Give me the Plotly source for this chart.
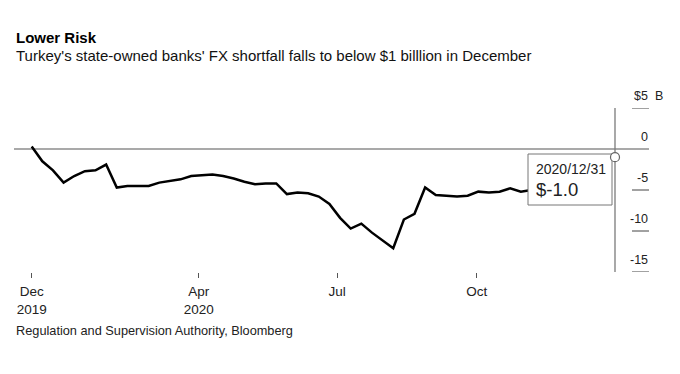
import plotly.graph_objects as go
import pandas as pd

# ---- data ----
dates = [
    "2019-12-13", "2019-12-20", "2019-12-27", "2020-01-03", "2020-01-10", "2020-01-17",
    "2020-01-24", "2020-01-31", "2020-02-07", "2020-02-14", "2020-02-21", "2020-02-28",
    "2020-03-06", "2020-03-13", "2020-03-20", "2020-03-27", "2020-04-03", "2020-04-10",
    "2020-04-17", "2020-04-24", "2020-05-01", "2020-05-08", "2020-05-15", "2020-05-22",
    "2020-05-29", "2020-06-05", "2020-06-12", "2020-06-19", "2020-06-26", "2020-07-03",
    "2020-07-10", "2020-07-17", "2020-07-24", "2020-07-31", "2020-08-07", "2020-08-14",
    "2020-08-21", "2020-08-28", "2020-09-04", "2020-09-11", "2020-09-18", "2020-09-25",
    "2020-10-02", "2020-10-09", "2020-10-16", "2020-10-23", "2020-10-30", "2020-11-06",
    "2020-11-13", "2020-11-20", "2020-11-27", "2020-12-04", "2020-12-11", "2020-12-18",
    "2020-12-25", "2020-12-31",
]
fx_shortfall = [
    0.3, -1.5, -2.6, -4.1, -3.3, -2.7,
    -2.6, -1.9, -4.7, -4.5, -4.5, -4.5,
    -4.1, -3.9, -3.7, -3.3, -3.2, -3.1,
    -3.3, -3.6, -4.0, -4.3, -4.2, -4.2,
    -5.5, -5.3, -5.4, -5.8, -6.7, -8.4,
    -9.7, -9.1, -10.2, -11.1, -12.1, -8.6,
    -7.9, -4.7, -5.6, -5.7, -5.8, -5.7,
    -5.2, -5.3, -5.2, -4.8, -5.2, -5.0,
    -4.6, -4.2, -3.8, -3.3, -2.6, -2.0,
    -1.5, -1.0,
]
x_tick_vals = ["2019-12-13", "2020-04-01", "2020-07-01", "2020-10-01"]
x_tick_text = ["Dec<br>2019", "Apr<br>2020", "Jul", "Oct"]
y_tick_vals = [5, 0, -5, -10, -15]
y_tick_text = ["$5", "0", "-5", "-10", "-15"]

title = "Lower Risk"
subtitle = "Turkey's state-owned banks' FX shortfall falls to below $1 billlion in December"
source = "Regulation and Supervision Authority, Bloomberg"

# ---- layout geometry (pixels) ----
W, H = 680, 374
L, R, T, B = 14, 65, 108, 102
PW, PH = W - L - R, H - T - B
FONT = "Liberation Sans, Arial, Helvetica, sans-serif"


def px_x(p):
    return (p - L) / PW


def px_y(p):
    return (H - B - p) / PH


px_per_day = 1.519
x_end = pd.Timestamp(dates[-1])
x_start = x_end - pd.Timedelta(days=PW / px_per_day)

fig = go.Figure()
fig.add_trace(go.Scatter(
    x=dates, y=fx_shortfall, mode="lines",
    line=dict(color="#000000", width=2.5),
    hoverinfo="skip", showlegend=False, cliponaxis=False,
))

shapes = []
# zero line
shapes.append(dict(type="line", xref="paper", yref="y", x0=px_x(14), x1=px_x(649),
                   y0=0, y1=0, line=dict(color="#8c8c8c", width=1.4), layer="below"))
# vertical end line (at the last date = right edge of plot area)
shapes.append(dict(type="line", xref="paper", yref="paper", x0=1, x1=1,
                   y0=0, y1=1, line=dict(color="#7a7a7a", width=1.3), layer="above"))
# y tick underlines
for v in y_tick_vals:
    if v == 0:
        continue
    shapes.append(dict(type="line", xref="paper", yref="y", x0=px_x(632), x1=px_x(649),
                       y0=v, y1=v, line=dict(color="#444444", width=1)))
# tooltip box
shapes.append(dict(type="rect", xref="paper", yref="paper",
                   x0=px_x(528), x1=px_x(612), y0=px_y(205), y1=px_y(154),
                   fillcolor="white", line=dict(color="#777777", width=1), layer="above"))
# end marker (last point sits on the right edge of the plot area)
shapes.append(dict(type="circle", xref="paper", yref="y", xsizemode="pixel", ysizemode="pixel",
                   xanchor=1, yanchor=fx_shortfall[-1],
                   x0=-4.5, x1=4.5, y0=-4.5, y1=4.5,
                   fillcolor="white", line=dict(color="#666666", width=1.2), layer="above"))

annotations = []
for v, t in zip(y_tick_vals, y_tick_text):
    annotations.append(dict(xref="paper", yref="y", x=px_x(650), y=v, yshift=12,
                            text=t, showarrow=False, xanchor="right", yanchor="middle",
                            font=dict(family=FONT, size=12.5, color="#222222")))
annotations.append(dict(xref="paper", yref="y", x=px_x(653), y=y_tick_vals[0], yshift=12,
                        text="B", showarrow=False, xanchor="left", yanchor="middle",
                        font=dict(family=FONT, size=12.5, color="#222222")))
# tooltip texts
annotations.append(dict(xref="paper", yref="paper", x=px_x(534), y=px_y(169),
                        text=pd.Timestamp(dates[-1]).strftime("%Y/%m/%d"),
                        showarrow=False, xanchor="left", yanchor="middle",
                        font=dict(family=FONT, size=14, color="#222222")))
annotations.append(dict(xref="paper", yref="paper", x=px_x(534), y=px_y(189),
                        text="$%.1f" % fx_shortfall[-1],
                        showarrow=False, xanchor="left", yanchor="middle",
                        font=dict(family=FONT, size=18.5, color="#222222")))
# title, subtitle, source
annotations.append(dict(xref="paper", yref="paper", x=px_x(14), y=px_y(37),
                        text="<b>" + title + "</b>", showarrow=False,
                        xanchor="left", yanchor="middle",
                        font=dict(family=FONT, size=15, color="#000000")))
annotations.append(dict(xref="paper", yref="paper", x=px_x(14), y=px_y(56),
                        text=subtitle, showarrow=False, xanchor="left", yanchor="middle",
                        font=dict(family=FONT, size=15, color="#111111")))
annotations.append(dict(xref="paper", yref="paper", x=px_x(14), y=px_y(330),
                        text=source, showarrow=False, xanchor="left", yanchor="middle",
                        font=dict(family=FONT, size=12.75, color="#222222")))

fig.update_layout(
    width=W, height=H,
    margin=dict(l=L, r=R, t=T, b=B, pad=0),
    paper_bgcolor="white", plot_bgcolor="white",
    showlegend=False, hovermode=False,
    shapes=shapes, annotations=annotations,
    xaxis=dict(type="date", range=[x_start, x_end], showgrid=False, zeroline=False,
               showline=False, ticks="outside", ticklen=5, tickwidth=1, tickcolor="#555555",
               tickvals=x_tick_vals, ticktext=x_tick_text, ticklabelstandoff=2,
               tickfont=dict(family=FONT, size=13.5, color="#222222"), fixedrange=True),
    yaxis=dict(range=[-15, 5], showgrid=False, zeroline=False, showline=False,
               showticklabels=False, ticks="", fixedrange=True),
)

fig.write_html("out.html", config={"displayModeBar": False, "staticPlot": True},
               post_script="document.body.style.margin='0px';")
